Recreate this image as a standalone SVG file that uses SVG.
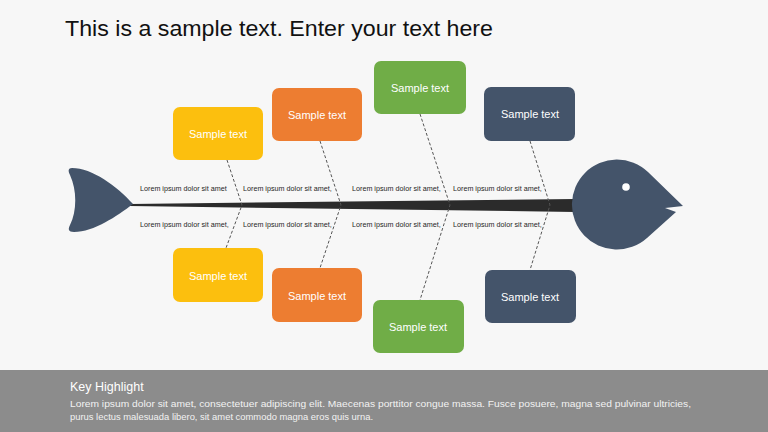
<svg xmlns="http://www.w3.org/2000/svg" width="768" height="432" viewBox="0 0 768 432">
<style>
.box{stroke:none}
.bt{font-family:"Liberation Sans",Arial,sans-serif;font-size:11px;fill:#ffffff;text-anchor:middle}
.lbl{font-family:"Liberation Sans",Arial,sans-serif;font-size:7.2px;fill:#262626}
.dash{fill:none;stroke:#555555;stroke-width:1;stroke-dasharray:3,2}
.fish{fill:#44546a}
</style>
<rect x="0" y="0" width="768" height="432" fill="#f7f7f7"/>
<text x="65" y="36" font-family="'Liberation Sans',Arial,sans-serif" font-size="21.5" fill="#111111" textLength="428" lengthAdjust="spacingAndGlyphs">This is a sample text. Enter your text here</text>

<g id="spine">
<path d="M130,204 L575,199 L575,212 L130,206 Z" fill="#2b2b2b"/>
</g>
<g id="tail">
<path class="fish" d="M72,168 C92,168 117,186 133,204 C117,216 94,232 74,232 C68,232 68,229 70,225 C77,211 77,190 70,175 C68,171 68,168 72,168 Z"/>
</g>
<g id="head">
<path class="fish" d="M683,206 L665,208 L676,212 L647,238 A45,45 0 1,1 648,172 Z"/>
<circle cx="626" cy="187" r="3.8" fill="#ffffff"/>
</g>

<g id="connectors">
<polyline class="dash" points="227,160 242,205 226,248"/>
<polyline class="dash" points="320,141 341,205 320,268"/>
<polyline class="dash" points="420,114 450,205 420,300"/>
<polyline class="dash" points="530,141 550,205 530,270"/>
</g>

<g id="labels">
<text class="lbl" x="140" y="191">Lorem ipsum dolor sit amet</text>
<text class="lbl" x="243" y="191">Lorem ipsum dolor sit amet,</text>
<text class="lbl" x="352" y="191">Lorem ipsum dolor sit amet,</text>
<text class="lbl" x="453" y="191">Lorem ipsum dolor sit amet,</text>
<text class="lbl" x="140" y="227">Lorem ipsum dolor sit amet,</text>
<text class="lbl" x="243" y="227">Lorem ipsum dolor sit amet,</text>
<text class="lbl" x="352" y="227">Lorem ipsum dolor sit amet,</text>
<text class="lbl" x="453" y="227">Lorem ipsum dolor sit amet,</text>
</g>

<g id="node-yellow-top"><rect class="box" x="173" y="107" width="90" height="53" rx="7" fill="#fcbf0e"/><text class="bt" x="218" y="138">Sample text</text></g>
<g id="node-orange-top"><rect class="box" x="272" y="88" width="90" height="53" rx="7" fill="#ed7d31"/><text class="bt" x="317" y="119">Sample text</text></g>
<g id="node-green-top"><rect class="box" x="374" y="61" width="92" height="53" rx="7" fill="#70ad47"/><text class="bt" x="420" y="92">Sample text</text></g>
<g id="node-navy-top"><rect class="box" x="484" y="87" width="91" height="54" rx="7" fill="#44546a"/><text class="bt" x="530" y="118">Sample text</text></g>
<g id="node-yellow-bottom"><rect class="box" x="173" y="248" width="90" height="54" rx="7" fill="#fcbf0e"/><text class="bt" x="218" y="280">Sample text</text></g>
<g id="node-orange-bottom"><rect class="box" x="272" y="268" width="90" height="54" rx="7" fill="#ed7d31"/><text class="bt" x="317" y="300">Sample text</text></g>
<g id="node-green-bottom"><rect class="box" x="373" y="300" width="91" height="53" rx="7" fill="#70ad47"/><text class="bt" x="418" y="331">Sample text</text></g>
<g id="node-navy-bottom"><rect class="box" x="485" y="270" width="91" height="53" rx="7" fill="#44546a"/><text class="bt" x="530" y="301">Sample text</text></g>

<g id="footer">
<rect x="0" y="370" width="768" height="62" fill="#8c8c8c"/>
<text x="70" y="391" font-family="'Liberation Sans',Arial,sans-serif" font-size="12.5" fill="#ffffff">Key Highlight</text>
<text x="70" y="407" font-family="'Liberation Sans',Arial,sans-serif" font-size="9.5" fill="#f2f2f2" textLength="621" lengthAdjust="spacingAndGlyphs">Lorem ipsum dolor sit amet, consectetuer adipiscing elit. Maecenas porttitor congue massa. Fusce posuere, magna sed pulvinar ultricies,</text>
<text x="70" y="420" font-family="'Liberation Sans',Arial,sans-serif" font-size="9.5" fill="#f2f2f2" textLength="303" lengthAdjust="spacingAndGlyphs">purus lectus malesuada libero, sit amet commodo magna eros quis urna.</text>
</g>
</svg>
